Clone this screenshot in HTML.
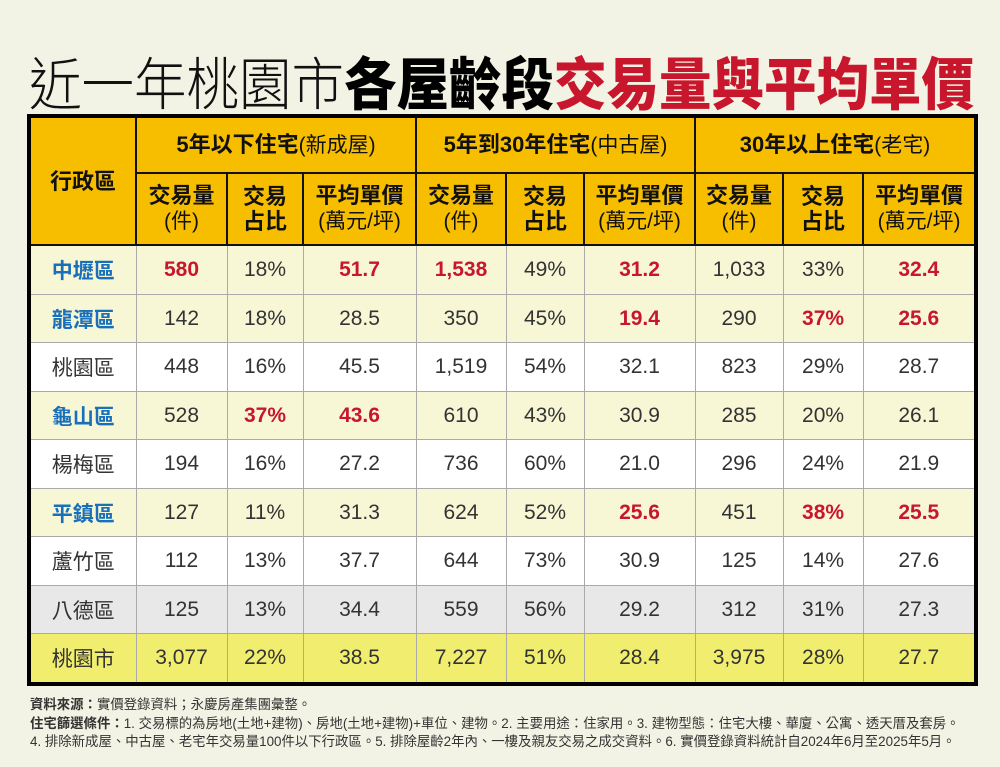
<!DOCTYPE html><html><head><meta charset="utf-8"><style>
body{margin:0;width:1000px;height:767px;background:#f3f3e5;font-family:"Liberation Sans","Noto Sans CJK TC",sans-serif;position:relative;overflow:hidden}
.title{position:absolute;left:29px;top:43px;font-size:52.5px;line-height:70px;white-space:nowrap;font-family:"Noto Sans CJK TC",sans-serif;transform:scaleY(1.08);transform-origin:top left}
.title .t1{font-weight:300;color:#111}.title .t2{font-weight:900;color:#000}.title .t3{font-weight:900;color:#c8162c}
table{position:absolute;left:27px;top:114px;width:947px;height:572px;border-collapse:collapse;border:4px solid #000;table-layout:fixed}
td,th{text-align:center;padding:0;font-size:21px;color:#333;border:1px solid #aaa}
th{background:#f7be00;color:#111;border:2px solid #111;font-weight:bold;font-size:22px;line-height:25px}
th .n{font-weight:normal;font-size:21px}
tr.d td{height:47px}
.y td{background:#f7f7d6}.w td{background:#fff}.g td{background:#e8e8e8}.s td{background:#f1ed6f;color:#333}
.b{color:#1a6fba;font-weight:bold}.r{color:#c8162c;font-weight:bold}
.src{position:absolute;left:30px;top:696px;font-size:13.4px;line-height:18.5px;color:#333;white-space:nowrap}
</style></head><body>
<div class="title"><span class="t1">近一年桃園市</span><span class="t2">各屋齡段</span><span class="t3">交易量與平均單價</span></div>
<table>
<colgroup><col style="width:107px"><col style="width:91px"><col style="width:76px"><col style="width:113px"><col style="width:90px"><col style="width:78px"><col style="width:111px"><col style="width:88px"><col style="width:80px"><col style="width:113px"></colgroup>
<tr style="height:56px"><th rowspan="2">行政區</th><th colspan="3">5年以下住宅<span class="n">(新成屋)</span></th><th colspan="3">5年到30年住宅<span class="n">(中古屋)</span></th><th colspan="3">30年以上住宅<span class="n">(老宅)</span></th></tr>
<tr style="height:72px"><th>交易量<br><span class="n">(件)</span></th><th>交易<br>占比</th><th>平均單價<br><span class="n">(萬元/坪)</span></th><th>交易量<br><span class="n">(件)</span></th><th>交易<br>占比</th><th>平均單價<br><span class="n">(萬元/坪)</span></th><th>交易量<br><span class="n">(件)</span></th><th>交易<br>占比</th><th>平均單價<br><span class="n">(萬元/坪)</span></th></tr>
<tr class="d y"><td class="b">中壢區</td><td class="r">580</td><td>18%</td><td class="r">51.7</td><td class="r">1,538</td><td>49%</td><td class="r">31.2</td><td>1,033</td><td>33%</td><td class="r">32.4</td></tr>
<tr class="d y"><td class="b">龍潭區</td><td>142</td><td>18%</td><td>28.5</td><td>350</td><td>45%</td><td class="r">19.4</td><td>290</td><td class="r">37%</td><td class="r">25.6</td></tr>
<tr class="d w"><td>桃園區</td><td>448</td><td>16%</td><td>45.5</td><td>1,519</td><td>54%</td><td>32.1</td><td>823</td><td>29%</td><td>28.7</td></tr>
<tr class="d y"><td class="b">龜山區</td><td>528</td><td class="r">37%</td><td class="r">43.6</td><td>610</td><td>43%</td><td>30.9</td><td>285</td><td>20%</td><td>26.1</td></tr>
<tr class="d w"><td>楊梅區</td><td>194</td><td>16%</td><td>27.2</td><td>736</td><td>60%</td><td>21.0</td><td>296</td><td>24%</td><td>21.9</td></tr>
<tr class="d y"><td class="b">平鎮區</td><td>127</td><td>11%</td><td>31.3</td><td>624</td><td>52%</td><td class="r">25.6</td><td>451</td><td class="r">38%</td><td class="r">25.5</td></tr>
<tr class="d w"><td>蘆竹區</td><td>112</td><td>13%</td><td>37.7</td><td>644</td><td>73%</td><td>30.9</td><td>125</td><td>14%</td><td>27.6</td></tr>
<tr class="d g"><td>八德區</td><td>125</td><td>13%</td><td>34.4</td><td>559</td><td>56%</td><td>29.2</td><td>312</td><td>31%</td><td>27.3</td></tr>
<tr class="d s"><td>桃園市</td><td>3,077</td><td>22%</td><td>38.5</td><td>7,227</td><td>51%</td><td>28.4</td><td>3,975</td><td>28%</td><td>27.7</td></tr>
</table>
<div class="src"><b>資料來源：</b>實價登錄資料；永慶房產集團彙整。<br><b>住宅篩選條件：</b>1. 交易標的為房地(土地+建物)、房地(土地+建物)+車位、建物。2. 主要用途：住家用。3. 建物型態：住宅大樓、華廈、公寓、透天厝及套房。<br>4. 排除新成屋、中古屋、老宅年交易量100件以下行政區。5. 排除屋齡2年內、一樓及親友交易之成交資料。6. 實價登錄資料統計自2024年6月至2025年5月。</div>
</body></html>
